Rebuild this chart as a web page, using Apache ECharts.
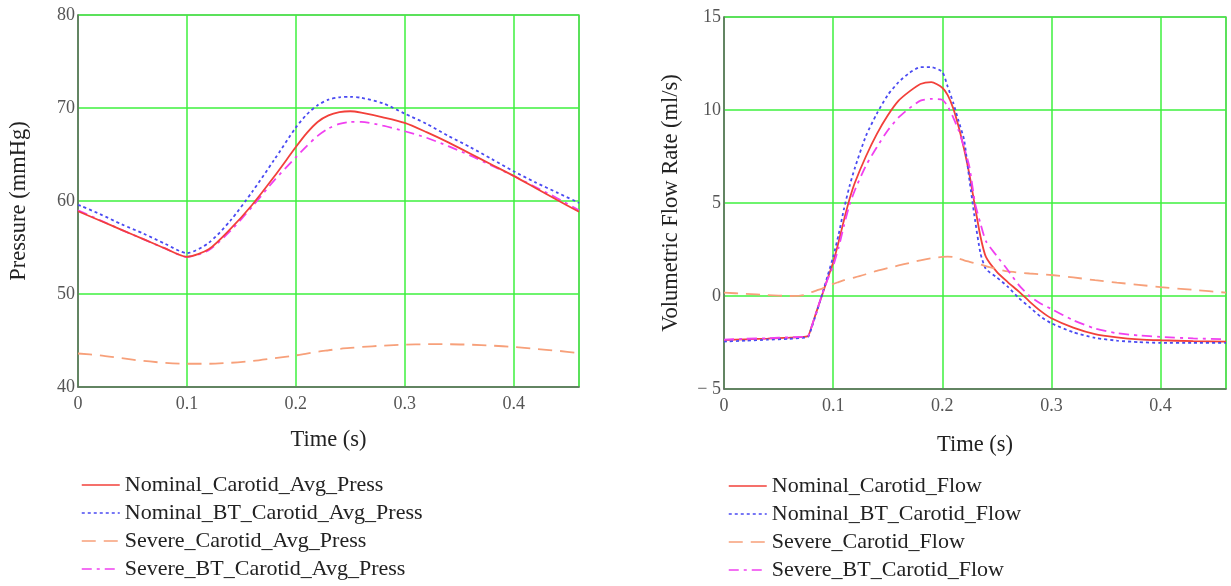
<!DOCTYPE html>
<html>
<head>
<meta charset="utf-8">
<script src="https://cdn.jsdelivr.net/npm/echarts@6/dist/echarts.min.js"></script>
<style>
html,body{margin:0;padding:0;background:#fff;}
#chart{width:1231px;height:586px;}
</style>
</head>
<body>
<div id="chart"></div>
<script>
// ---- Pressure plot data ----
var pressTime = [0,0.02,0.04,0.06,0.08,0.10,0.12,0.14,0.16,0.18,0.20,0.21,0.22,0.23,0.24,0.25,0.26,0.28,0.30,0.32,0.34,0.36,0.38,0.40,0.42,0.44,0.46];
var nominalCarotidAvgPress   = [58.9,57.9,56.9,55.9,54.9,54.0,54.8,57.0,59.6,62.6,65.8,67.3,68.5,69.2,69.55,69.65,69.5,69.0,68.4,67.4,66.3,65.1,63.9,62.7,61.4,60.1,58.85];
var nominalBTCarotidAvgPress = [59.6,58.6,57.5,56.5,55.4,54.4,55.5,57.9,61.0,64.4,67.9,69.3,70.3,70.9,71.15,71.2,71.1,70.5,69.4,68.3,67.0,65.8,64.5,63.2,62.0,60.9,59.8];
var severeCarotidAvgPress    = [43.6,43.4,43.1,42.8,42.6,42.5,42.5,42.6,42.8,43.1,43.4,43.6,43.8,43.95,44.1,44.2,44.3,44.45,44.55,44.6,44.6,44.55,44.45,44.3,44.1,43.9,43.65];
var severeBTCarotidAvgPress  = [59.0,57.95,56.9,55.9,54.9,54.0,54.7,56.8,59.4,62.2,64.7,65.9,67.0,67.8,68.3,68.5,68.5,68.1,67.5,66.8,65.9,64.9,63.8,62.7,61.5,60.3,59.0];

// ---- Flow plot data ----
var flowTime = [0,0.02,0.04,0.06,0.07,0.077,0.08,0.085,0.09,0.095,0.10,0.105,0.11,0.115,0.12,0.13,0.14,0.15,0.16,0.17,0.18,0.19,0.20,0.205,0.21,0.215,0.22,0.225,0.23,0.235,0.24,0.25,0.26,0.27,0.28,0.29,0.30,0.32,0.34,0.36,0.38,0.40,0.43,0.46];
var nominalCarotidFlow   = [-2.37,-2.33,-2.29,-2.24,-2.21,-2.15,-1.7,-0.8,0.07,0.95,1.8,2.9,4.1,5.2,6.1,7.5,8.7,9.7,10.5,11.0,11.4,11.5,11.2,10.8,10.1,9.1,7.9,6.5,4.8,3.2,2.1,1.3,0.75,0.25,-0.3,-0.8,-1.2,-1.7,-2.05,-2.22,-2.33,-2.38,-2.43,-2.45];
var nominalBTCarotidFlow = [-2.45,-2.4,-2.35,-2.3,-2.26,-2.2,-1.75,-0.85,0.1,1.1,2.1,3.3,4.7,5.9,6.9,8.6,9.8,10.8,11.5,12.0,12.3,12.3,12.05,11.25,10.4,9.4,8.4,6.2,4.1,2.3,1.45,1.0,0.5,-0.1,-0.6,-1.1,-1.47,-1.95,-2.25,-2.4,-2.48,-2.52,-2.52,-2.52];
var severeCarotidFlow    = [0.18,0.12,0.05,0.0,0.02,0.1,0.2,0.3,0.4,0.52,0.65,0.75,0.85,0.93,1.0,1.17,1.35,1.5,1.64,1.78,1.92,2.03,2.1,2.12,2.1,2.02,1.92,1.84,1.76,1.7,1.6,1.45,1.32,1.26,1.21,1.17,1.13,1.0,0.85,0.72,0.6,0.48,0.33,0.18];
var severeBTCarotidFlow  = [-2.35,-2.3,-2.27,-2.22,-2.2,-2.15,-1.7,-0.8,0.1,0.9,1.6,2.6,3.8,4.9,5.7,7.0,8.0,8.9,9.6,10.1,10.5,10.6,10.55,10.2,9.6,8.9,8.0,6.9,5.0,3.9,2.95,2.15,1.4,0.6,0.0,-0.4,-0.7,-1.3,-1.75,-2.0,-2.12,-2.2,-2.28,-2.32];

var pressNames = ['Nominal_Carotid_Avg_Press','Nominal_BT_Carotid_Avg_Press','Severe_Carotid_Avg_Press','Severe_BT_Carotid_Avg_Press'];
var flowNames  = ['Nominal_Carotid_Flow','Nominal_BT_Carotid_Flow','Severe_Carotid_Flow','Severe_BT_Carotid_Flow'];
var pressTitle = 'Pressure (mmHg)';
var flowTitle = 'Volumetric Flow Rate (ml/s)';
var timeTitle = 'Time (s)';

function pairs(xs, ys){ return xs.map(function(x,i){ return [x, ys[i]]; }); }

var FONT = '"Liberation Serif","Times New Roman",serif';
var GREEN = '#3ef03e';
var styles = [
  {color:'#f2403a', type:'solid', width:1.8},
  {color:'#4a4af2', type:[3,3], width:1.8},
  {color:'#f7a07a', type:[14,8], width:1.8},
  {color:'#f040f0', type:[10,5,3,5], width:1.8}
];

function mkX(gi, gap){
  return {
    type:'value', gridIndex:gi, min:0, max:0.46, interval:0.1,
    name: timeTitle, nameLocation:'middle', nameGap:gap,
    nameTextStyle:{fontFamily:FONT, fontSize:22.5, color:'#222'},
    axisLine:{show:true, onZero:false, lineStyle:{color:'#666', width:1.5}},
    axisTick:{show:false},
    axisLabel:{showMaxLabel:false, fontFamily:FONT, fontSize:18, color:'#555', margin:8,
      formatter:function(v){ return v===0 ? '0' : String(Math.round(v*10)/10); }},
    splitLine:{show:true, lineStyle:{color:GREEN, width:1.5}}
  };
}
function mkY(gi, min, max, iv, title, gap){
  return {
    type:'value', gridIndex:gi, min:min, max:max, interval:iv,
    name:title, nameLocation:'middle', nameGap:gap, nameRotate:90,
    nameTextStyle:{fontFamily:FONT, fontSize:22.5, color:'#222'},
    axisLine:{show:true, lineStyle:{color:'#666', width:1.5}},
    axisTick:{show:false},
    axisLabel:{fontFamily:FONT, fontSize:18, color:'#555', margin:3,
      formatter:function(v){ return v<0 ? '\u2212 ' + Math.abs(v) : String(v); }},
    splitLine:{show:true, lineStyle:{color:GREEN, width:1.5}}
  };
}

var series = [];
var pressData = [nominalCarotidAvgPress, nominalBTCarotidAvgPress, severeCarotidAvgPress, severeBTCarotidAvgPress];
var flowData = [nominalCarotidFlow, nominalBTCarotidFlow, severeCarotidFlow, severeBTCarotidFlow];
pressNames.forEach(function(n,i){
  series.push({name:n, type:'line', xAxisIndex:0, yAxisIndex:0, data:pairs(pressTime, pressData[i]),
    showSymbol:false, symbol:'none', smooth:0.25, lineStyle:styles[i], itemStyle:{color:styles[i].color}, z:3+(i===0?1:0)});
});
flowNames.forEach(function(n,i){
  series.push({name:n, type:'line', xAxisIndex:1, yAxisIndex:1, data:pairs(flowTime, flowData[i]),
    showSymbol:false, symbol:'none', smooth:0.2, lineStyle:styles[i], itemStyle:{color:styles[i].color}, z:3});
});

function mkLegend(names, left, top){
  return {
    data:names, orient:'vertical', left:left, top:top, height:130, padding:0,
    itemWidth:38, itemHeight:12, itemGap:6,
    itemStyle:{opacity:0},
    lineStyle:{width:1.5},
    textStyle:{fontFamily:FONT, fontSize:22, lineHeight:22, color:'#222'},
    selectedMode:false
  };
}

var option = {
  animation:false,
  backgroundColor:'#fff',
  grid:[
    {left:78, top:15, width:501, height:372, show:true, borderColor:'#999', borderWidth:1.5, containLabel:false},
    {left:724, top:17, width:502, height:372, show:true, borderColor:'#999', borderWidth:1.5, containLabel:false}
  ],
  xAxis:[mkX(0, 42), mkX(1, 45)],
  yAxis:[mkY(0, 40, 80, 10, pressTitle, 47), mkY(1, -5, 15, 5, flowTitle, 41)],
  legend:[mkLegend(pressNames, 81, 474), mkLegend(flowNames, 728, 475)],
  series:series
};

var chart = echarts.init(document.getElementById('chart'), null, {renderer:'canvas'});
chart.setOption(option);
</script>
</body>
</html>
